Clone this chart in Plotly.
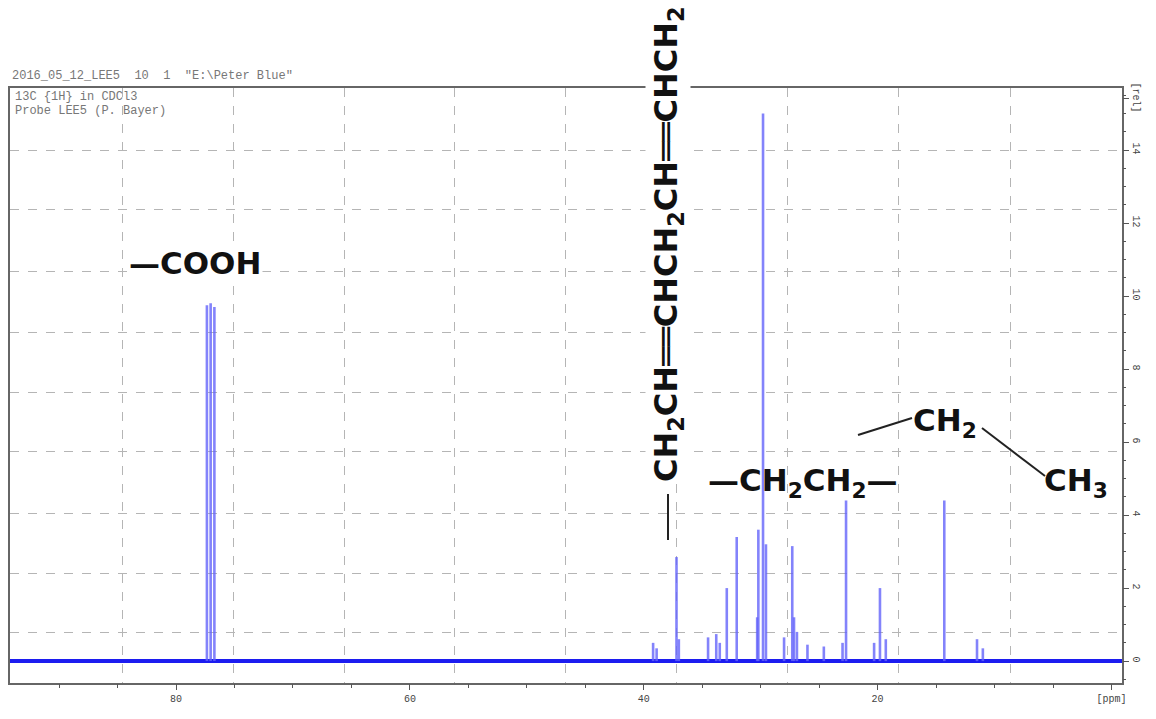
import plotly.graph_objects as go

# ---------------- data ----------------
peak_ppm = [77.36, 77.04, 76.72,
            39.2, 38.9, 37.2, 37.0, 34.5, 33.8, 33.5, 32.9, 32.05,
            30.3, 30.2, 29.8, 29.55, 28.0, 27.3, 27.15, 26.9, 26.0, 24.6,
            23.0, 22.7, 20.3, 19.8, 19.3, 14.3, 11.5, 11.0]
peak_height = [9.75, 9.8, 9.7,
               0.5, 0.35, 2.85, 0.6, 0.65, 0.74, 0.5, 2.0, 3.4,
               1.2, 3.6, 15.0, 3.2, 0.65, 3.15, 1.2, 0.8, 0.45, 0.4,
               0.5, 4.4, 0.5, 2.0, 0.6, 4.4, 0.6, 0.35]
baseline_ppm = [94.2, -0.9]
baseline_val = [0, 0]

x_tick_vals = [80, 60, 40, 20, 0]
x_tick_text = ["80", "60", "40", "20", "[ppm]"]
y_tick_vals = [0, 2, 4, 6, 8, 10, 12, 14, 15.4]
y_tick_text = ["0", "2", "4", "6", "8", "10", "12", "14", "[rel]"]
x_grid_vals = [84.6, 75.1, 65.6, 56.2, 46.7, 37.2, 27.7, 18.2, 8.6]
y_grid_vals = [0.77, 2.41, 4.05, 5.73, 7.37, 9.01, 10.68, 12.36, 14.0]

header = '2016_05_12_LEE5  10  1  "E:\\Peter Blue"'
info_lines = ["13C {1H} in CDCl3", "Probe LEE5 (P. Bayer)"]

# ---------------- figure ----------------
W, H = 1156, 719
L, R, T, B = 10, 34, 88, 36
XR = [94.2, -0.9]
YR = [-0.6, 15.7]


def px(xp):
    return (xp - L) / (W - L - R)


def py(yp):
    return (H - B - yp) / (H - T - B)


fig = go.Figure()

fig.add_trace(go.Scatter(x=baseline_ppm, y=baseline_val, mode="lines",
                         line=dict(color="#1c1cf0", width=4),
                         hoverinfo="skip", showlegend=False,
                         xaxis="x", yaxis="y"))

px_list, py_list = [], []
for p, h in zip(peak_ppm, peak_height):
    px_list += [p, p, None]
    py_list += [0, h, None]
fig.add_trace(go.Scatter(x=px_list, y=py_list, mode="lines",
                         line=dict(color="rgba(100,100,250,0.8)", width=2.6),
                         hoverinfo="skip", showlegend=False,
                         xaxis="x2", yaxis="y2"))

grid_style = dict(showgrid=True, gridcolor="#b5b5b5", griddash="dash", gridwidth=1,
                  zeroline=False, showticklabels=False, ticks="")

fig.update_layout(
    width=W, height=H,
    margin=dict(l=L, r=R, t=T, b=B),
    paper_bgcolor="white", plot_bgcolor="white",
    xaxis=dict(range=XR, tickvals=x_grid_vals, showline=True, mirror=True,
               linecolor="#666", linewidth=1.5, **grid_style),
    yaxis=dict(range=YR, tickvals=y_grid_vals, showline=True, mirror=True,
               linecolor="#666", linewidth=1.5, **grid_style),
    xaxis2=dict(range=XR, overlaying="x", anchor="y2", side="bottom",
                showgrid=False, zeroline=False,
                tickvals=x_tick_vals, ticktext=x_tick_text,
                ticks="outside", ticklen=6, tickcolor="#555",
                minor=dict(dtick=5, tick0=0, ticks="outside", ticklen=4, tickcolor="#555"),
                tickfont=dict(family="Liberation Mono", size=10, color="#444")),
    yaxis2=dict(range=YR, overlaying="y", anchor="x2", side="right",
                showgrid=False, zeroline=False,
                tickvals=y_tick_vals, ticktext=y_tick_text,
                ticks="outside", ticklen=6, tickcolor="#555", tickangle=90,
                minor=dict(dtick=0.5, tick0=0, ticks="outside", ticklen=3, tickcolor="#555"),
                tickfont=dict(family="Liberation Mono", size=10, color="#444")),
)

big = dict(family="DejaVu Sans", size=31, color="#111")
small = dict(family="Liberation Mono", size=12, color="#777")
ann = []
ann.append(dict(text=header, x=px(10), y=py(76), xanchor="left", yanchor="middle", font=small))
for i, line in enumerate(info_lines):
    ann.append(dict(text=line, x=px(13), y=py(97 + 14 * i), xanchor="left", yanchor="middle",
                    font=small))

ann.append(dict(text="<b>—COOH</b>", x=px(195), y=py(263), font=big, bgcolor="white",
                xanchor="center", yanchor="middle"))
ann.append(dict(text="<b>CH<sub>2</sub>CH══CHCH<sub>2</sub>CH══CHCH<sub>2</sub></b>",
                x=px(668), y=py(244), textangle=-90,
                font=dict(family="DejaVu Sans", size=32, color="#111"),
                bgcolor="white", xanchor="center", yanchor="middle"))
ann.append(dict(text="<b>—CH<sub>2</sub>CH<sub>2</sub>—</b>", x=px(803), y=py(482), font=big,
                xanchor="center", yanchor="middle"))
ann.append(dict(text="<b>CH<sub>2</sub></b>", x=px(945), y=py(422), font=big,
                xanchor="center", yanchor="middle"))
ann.append(dict(text="<b>CH<sub>3</sub></b>", x=px(1076), y=py(482), font=big,
                xanchor="center", yanchor="middle"))
for a in ann:
    a.update(xref="paper", yref="paper", showarrow=False)
fig.update_layout(annotations=ann)

fig.add_shape(type="line", xref="paper", yref="paper",
              x0=px(668), y0=py(494), x1=px(668), y1=py(540),
              line=dict(color="#222", width=2))
fig.add_shape(type="line", xref="paper", yref="paper",
              x0=px(858), y0=py(435), x1=px(912), y1=py(418),
              line=dict(color="#222", width=2))
fig.add_shape(type="line", xref="paper", yref="paper",
              x0=px(982), y0=py(428), x1=px(1045), y1=py(476),
              line=dict(color="#222", width=2))

fig.write_html("out.html")
